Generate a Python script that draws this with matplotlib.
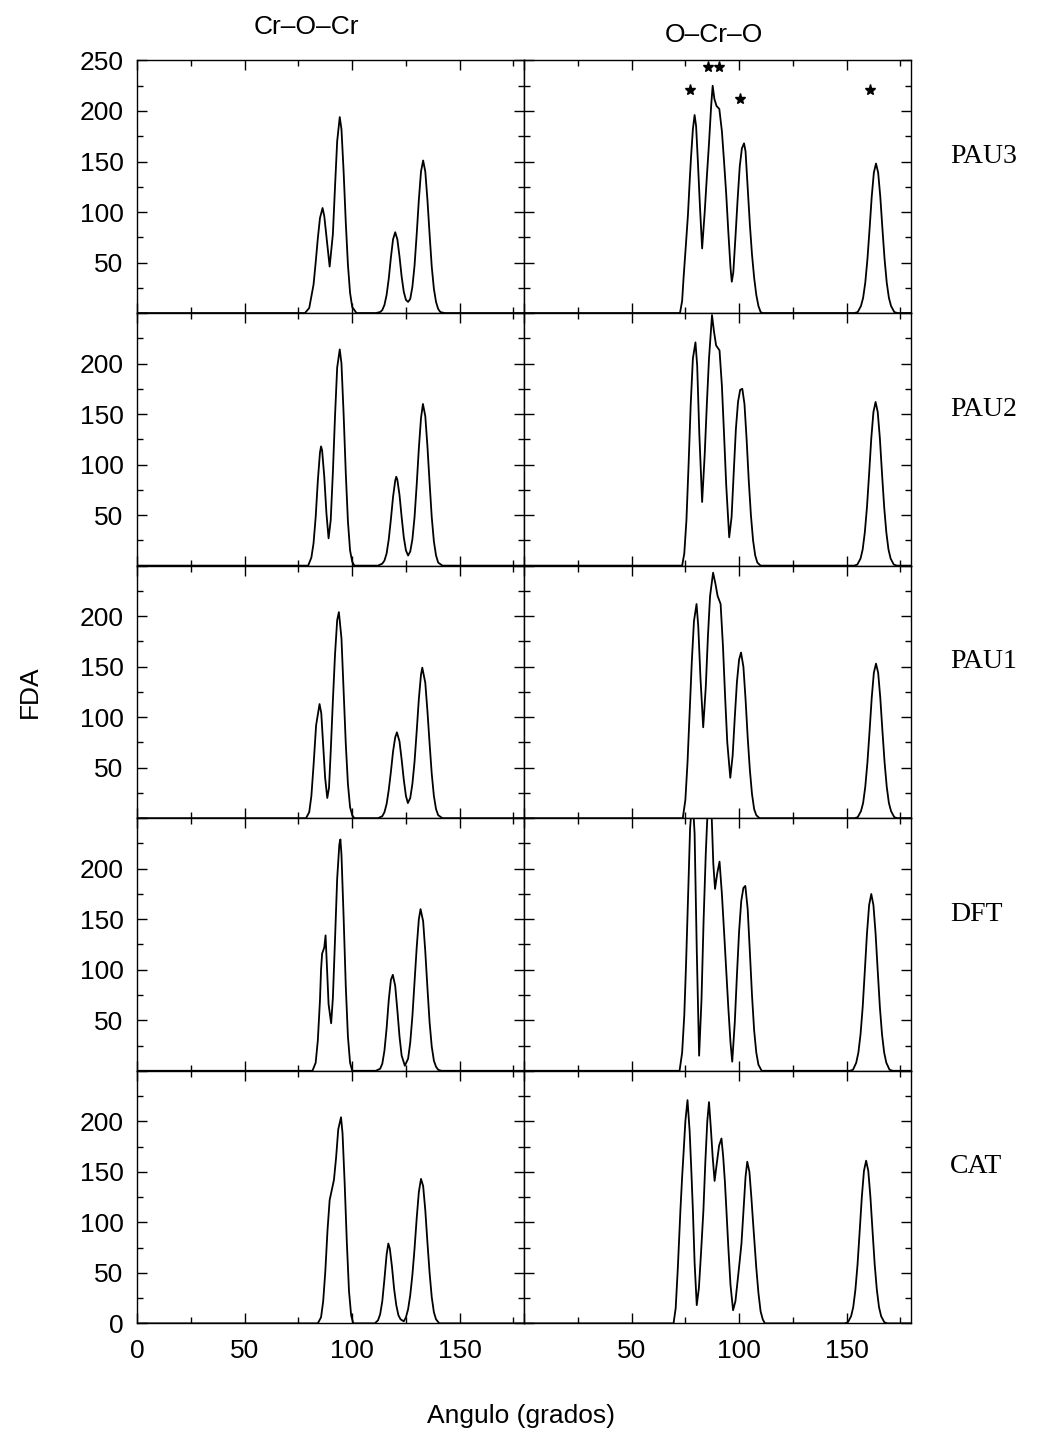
import matplotlib.pyplot as plt
from matplotlib.ticker import MultipleLocator

plt.rcParams["font.family"] = ["Liberation Sans", "DejaVu Sans"]

systems = ["PAU3", "PAU2", "PAU1", "DFT", "CAT"]
titles = ["Cr–O–Cr", "O–Cr–O"]

# --- FDA del angulo Cr-O-Cr ---
croc_pau3_x = [0, 78, 80, 82, 83, 84, 85, 86.2, 87, 88, 89.5, 91, 92, 93, 94.2, 95, 96, 97, 98, 99,
               100, 102, 111, 113, 114, 115, 116, 117, 118, 119, 120, 121, 122, 123, 124, 125, 126, 127, 128, 129,
               130, 131, 132, 133, 134, 135, 136, 137, 138, 139, 140, 141, 143, 180]
croc_pau3_y = [0, 0, 5, 28, 50, 74, 94, 104, 96, 76, 46, 78, 125, 170, 194, 182, 140, 90, 48, 20,
               6, 0, 0, 1, 3, 8, 18, 34, 55, 73, 80, 73, 56, 36, 21, 13, 11, 14, 26, 47,
               78, 112, 140, 151, 140, 112, 78, 46, 24, 11, 4, 1, 0, 0]

croc_pau2_x = [0, 79.5, 81, 82, 83, 84, 85, 85.5, 86, 87, 88, 89, 90, 91, 92, 93, 94.2, 95, 96, 97,
               98, 99, 100, 101, 112, 114, 115, 116, 117, 118, 119, 120, 120.5, 121, 122, 123, 124, 125, 126, 127,
               128, 129, 130, 131, 132, 132.9, 134, 135, 136, 137, 138, 139, 140, 142, 180]
croc_pau2_y = [0, 0, 8, 22, 48, 84, 112, 118, 114, 88, 52, 27, 45, 92, 148, 196, 214, 200, 150, 92,
               44, 15, 4, 0, 0, 2, 5, 12, 26, 46, 68, 84, 88, 85, 70, 48, 28, 15, 10, 14,
               26, 48, 80, 116, 146, 160, 148, 118, 82, 48, 24, 10, 3, 0, 0]

croc_pau1_x = [0, 78.5, 80, 81, 82, 83.2, 84.8, 85.6, 86.5, 87.4, 88.4, 89.2, 90, 91, 92, 93, 93.8, 95, 96, 97,
               98, 99, 100, 101, 112, 114, 115, 116, 117, 118, 119, 120, 120.8, 122, 123, 124, 125, 125.9, 127, 128,
               129, 130, 131, 132, 132.6, 134, 135, 136, 137, 138, 139, 140, 142, 180]
croc_pau1_y = [0, 0, 6, 22, 52, 92, 113, 104, 72, 40, 20, 30, 66, 116, 162, 196, 204, 178, 126, 74,
               34, 11, 3, 0, 0, 2, 6, 14, 28, 46, 66, 80, 85, 76, 58, 38, 22, 15, 20, 34,
               56, 86, 118, 142, 149, 134, 106, 74, 44, 22, 9, 3, 0, 0]

croc_dft_x = [0, 81.5, 83, 84, 85, 85.5, 86, 87, 87.6, 88.2, 89, 90.2, 91, 92, 93, 94, 94.5, 95, 96, 97,
              98, 99, 100, 111, 113, 114, 115, 116, 117, 118, 118.9, 120, 121, 122, 123, 124.5, 126, 127, 128, 129,
              130, 131, 131.8, 133, 134, 135, 136, 137, 138, 139, 140, 141.5, 180]
croc_dft_y = [0, 0, 8, 30, 70, 100, 116, 122, 134, 105, 66, 47, 72, 130, 190, 224, 229, 214, 152, 84,
              34, 8, 0, 0, 2, 7, 20, 42, 70, 90, 95, 84, 60, 34, 15, 5, 12, 28, 54, 88,
              122, 150, 160, 148, 118, 82, 48, 24, 10, 4, 1, 0, 0]

croc_cat_x = [0, 84, 85.5, 86.5, 87.5, 88.5, 89.5, 90.5, 91.5, 92.5, 93.5, 94.8, 95.5, 96.5, 97.5, 98.5, 99.5, 100.5,
              110.5, 112, 113, 114, 115, 116, 116.8, 117.5, 118.5, 119.5, 120.5, 121.5, 122.5, 124, 125, 126, 127,
              128, 129, 130, 131, 132, 133, 134, 135, 136, 137, 138, 139, 140.5, 180]
croc_cat_y = [0, 0, 6, 22, 52, 92, 122, 132, 142, 164, 192, 204, 188, 138, 80, 32, 8, 0,
              0, 3, 9, 22, 44, 68, 79, 74, 56, 34, 18, 8, 4, 2, 6, 14, 28,
              48, 74, 104, 130, 143, 136, 112, 80, 50, 26, 11, 4, 0, 0]

# --- FDA del angulo O-Cr-O ---
ocro_pau3_x = [0, 72.5, 73.5, 74.2, 75.2, 76.2, 77, 77.6, 78.5, 79.3, 80, 80.8, 81.8, 82.8, 84, 85, 86, 87, 87.7, 88.5,
               89.5, 90.8, 92, 93, 94, 95, 96, 96.6, 97.3, 98.3, 99.3, 100.3, 101.3, 102.3, 103, 104, 105, 106, 107, 108,
               109, 110, 111,
               153.7, 155.2, 156.7, 157.7, 158.7, 159.7, 160.7, 161.7, 162.7, 163.7, 164.7, 165.7, 166.7, 167.7, 168.7,
               169.7, 170.7, 172.2, 173.7, 180]
ocro_pau3_y = [0, 0, 12, 36, 66, 97, 130, 153, 182, 196, 185, 151, 105, 64, 100, 135, 168, 205, 225, 212,
               205, 202, 180, 150, 118, 80, 45, 31, 40, 75, 112, 145, 163, 168, 160, 124, 88, 58, 35, 18,
               7, 1, 0,
               0, 1, 7, 15, 30, 53, 83, 115, 139, 148, 139, 115, 83, 53, 30,
               15, 7, 1, 0, 0]

ocro_pau2_x = [0, 73.5, 74.5, 75.5, 76.5, 77.5, 78.5, 79.7, 80.5, 81.5, 82.8, 84, 85, 86, 87.4, 88.3, 89.3, 90.9, 92, 93,
               94, 95.4, 96.5, 97.5, 98.5, 99.5, 100.5, 101.5, 102.5, 103.5, 104.5, 105.5, 106.5, 107.5, 108.5, 110,
               153.5, 155.0, 156.5, 157.5, 158.5, 159.5, 160.5, 161.5, 162.5, 163.5, 164.5, 165.5, 166.5, 167.5, 168.5,
               169.5, 170.5, 172.0, 173.5, 180]
ocro_pau2_y = [0, 0, 12, 45, 100, 160, 205, 221, 198, 130, 63, 110, 160, 205, 248, 232, 218, 213, 178, 130,
               80, 28, 48, 92, 135, 162, 174, 175, 160, 125, 84, 50, 25, 10, 3, 0,
               0, 1, 7, 16, 33, 58, 91, 126, 152, 162, 152, 126, 91, 58, 33,
               16, 7, 1, 0, 0]

ocro_pau1_x = [0, 73.8, 75, 76, 77, 78, 79, 80.2, 81, 82, 83.3, 84.5, 85.5, 86.5, 87.9, 89, 90, 91.4, 92.5, 93.5,
               94.5, 95.9, 97, 98, 99, 100, 100.9, 102, 103, 104, 105, 106, 107, 108, 109.5,
               153.7, 155.2, 156.7, 157.7, 158.7, 159.7, 160.7, 161.7, 162.7, 163.7, 164.7, 165.7, 166.7, 167.7, 168.7,
               169.7, 170.7, 172.2, 173.7, 180]
ocro_pau1_y = [0, 0, 18, 55, 105, 155, 195, 212, 190, 140, 90, 130, 180, 220, 243, 232, 220, 212, 170, 120,
               75, 40, 62, 100, 135, 157, 164, 150, 118, 80, 48, 24, 9, 3, 0,
               0, 1, 7, 15, 31, 55, 86, 119, 144, 153, 144, 119, 86, 55, 31,
               15, 7, 1, 0, 0]

ocro_dft_x = [0, 72.3, 73.5, 74.5, 75.3, 76.3, 77.2, 78.3, 79.3, 80.3, 81.4, 82.5, 83.5, 84.5, 85.3, 86.3, 87.2, 88,
              88.8, 89.8, 90.9, 92, 93, 94, 95, 96, 96.8, 98, 99, 100, 101, 102, 102.9, 104, 105, 106, 107, 108, 109,
              110.5,
              151.5, 153.0, 154.5, 155.5, 156.5, 157.5, 158.5, 159.5, 160.5, 161.5, 162.5, 163.5, 164.5, 165.5, 166.5,
              167.5, 168.5, 170.0, 171.5, 180]
ocro_dft_y = [0, 0, 18, 55, 104, 175, 240, 272, 235, 120, 15, 70, 150, 215, 255, 272, 255, 205,
              180, 195, 207, 175, 138, 100, 62, 28, 9, 48, 95, 138, 168, 181, 183, 160, 118, 75, 40, 18, 6,
              0,
              0, 1, 8, 18, 36, 63, 99, 136, 164, 175, 164, 136, 99, 63, 36,
              18, 8, 1, 0, 0]

ocro_cat_x = [0, 69.5, 70.5, 71.5, 72.7, 73.5, 74.2, 75, 76, 77, 77.8, 78.5, 79.3, 80.3, 81.3, 82.3, 83.4, 84.3, 85.2,
              86, 86.8, 87.7, 88.6, 89.6, 90.7, 91.8, 92.6, 93.4, 94.1, 95, 96, 97.2, 98.3, 99.3, 100.2, 101.1, 102,
              103, 103.8, 104.8, 105.7, 106.5, 107.2, 108, 109, 110, 111, 112,
              149.1, 150.6, 152.1, 153.1, 154.1, 155.1, 156.1, 157.1, 158.1, 159.1, 160.1, 161.1, 162.1, 163.1, 164.1,
              165.1, 166.1, 167.6, 169.1, 180]
ocro_cat_y = [0, 0, 15, 55, 112, 145, 170, 200, 221, 190, 150, 112, 60, 18, 35, 70, 112, 160, 200,
              219, 195, 165, 141, 158, 176, 183, 165, 140, 112, 75, 38, 13, 22, 42, 60, 79, 110,
              145, 160, 150, 125, 100, 79, 55, 30, 12, 4, 0,
              0, 1, 7, 16, 33, 58, 91, 125, 151, 161, 151, 125, 91, 58, 33,
              16, 7, 1, 0, 0]

# picos marcados en PAU3 (O-Cr-O)
star_x = [77, 85.4, 90.8, 100.3, 161]
star_y = [221, 244, 244, 212, 221]

croc = [(croc_pau3_x, croc_pau3_y), (croc_pau2_x, croc_pau2_y), (croc_pau1_x, croc_pau1_y),
        (croc_dft_x, croc_dft_y), (croc_cat_x, croc_cat_y)]
ocro = [(ocro_pau3_x, ocro_pau3_y), (ocro_pau2_x, ocro_pau2_y), (ocro_pau1_x, ocro_pau1_y),
        (ocro_dft_x, ocro_dft_y), (ocro_cat_x, ocro_cat_y)]

fig, axes = plt.subplots(5, 2, figsize=(10.4, 14.4), dpi=100)
fig.subplots_adjust(left=0.132, right=0.876, top=0.958, bottom=0.081, hspace=0, wspace=0)

yticks = [0, 50, 100, 150, 200, 250]
xticks = [0, 50, 100, 150]

for i, name in enumerate(systems):
    for j, (x, y) in enumerate([croc[i], ocro[i]]):
        ax = axes[i, j]
        ax.plot(x, y, color="black", lw=1.3)
        ax.set_xlim(0, 180)
        ax.set_ylim(0, 250)
        ax.xaxis.set_minor_locator(MultipleLocator(25))
        ax.yaxis.set_minor_locator(MultipleLocator(25))
        ax.tick_params(which="both", direction="in", top=True, right=True, width=1.0,
                       labelsize=19, color="black")
        ax.tick_params(which="major", length=7.5)
        ax.tick_params(which="minor", length=4.5)
        ax.tick_params(axis="x", pad=11)
        ax.tick_params(axis="y", pad=10)
        for s in ax.spines.values():
            s.set_linewidth(1.0)

        # etiquetas del eje y solo en la columna izquierda
        ylab = [str(v) for v in yticks]
        if i > 0:
            ylab[-1] = ""
        if i < 4:
            ylab[0] = ""
        ax.set_yticks(yticks, labels=ylab if j == 0 else [""] * len(yticks))

        xlab = [str(v) for v in xticks]
        if j == 1:
            xlab[0] = ""
        ax.set_xticks(xticks, labels=xlab if i == 4 else [""] * len(xticks))

    axes[i, 1].text(1.1, 0.62, name, transform=axes[i, 1].transAxes, ha="left", va="center",
                    fontsize=20, family=["Liberation Serif", "DejaVu Serif"])

axes[0, 1].plot(star_x, star_y, ls="none", marker="*", ms=8, color="black")

fig.text(0.295, 0.981, titles[0], ha="center", va="center", fontsize=19)
fig.text(0.686, 0.976, titles[1], ha="center", va="center", fontsize=19)
fig.text(0.029, 0.52, "FDA", rotation=90, ha="center", va="center", fontsize=19)
fig.text(0.501, 0.017, "Angulo (grados)", ha="center", va="center", fontsize=19)

fig.savefig("out.png", dpi=100)
